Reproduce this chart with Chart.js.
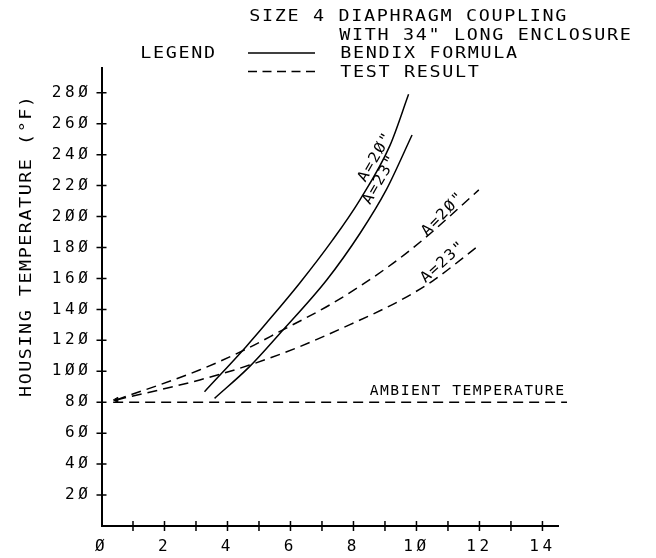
<!DOCTYPE html>
<html>
<head>
<meta charset="utf-8">
<title>Housing temperature - size 4 diaphragm coupling</title>
<script src="https://cdn.jsdelivr.net/npm/chart.js@4.4.1/dist/chart.umd.min.js"></script>
<style>
  html, body { margin: 0; padding: 0; background: #fff; }
  #wrap { width: 656px; height: 558px; }
</style>
</head>
<body>
<div id="wrap"><canvas id="tempChart" width="656" height="558"></canvas></div>
<script>
// curves (x in axis units, y in deg F)
const bendix20X = [3.27, 4.59, 5.23, 6.29, 7.34, 8.21, 9.16, 9.75];
const bendix20Y = [86.8, 115.9, 131, 156.9, 184.9, 211, 246, 279];
const bendix23X = [3.59, 4.7, 5.67, 7.15, 8.21, 9.04, 9.86];
const bendix23Y = [82.5, 103, 124.6, 159, 189.2, 217.2, 252.7];
const test20X = [0.47, 3.11, 4.56, 5.65, 7.34, 9.04, 10.2, 11.98];
const test20Y = [81.5, 100.8, 114, 125.6, 144, 166.6, 184.9, 217.2];
const test23X = [0.47, 3.12, 4.7, 6.29, 7.87, 9.46, 10.52, 11.93];
const test23Y = [81.5, 94.4, 104, 115.9, 130, 145.5, 158.5, 180.5];
const ambientX = [0.37, 14.78];
const ambientY = [80, 80];

// axes
const xTickMarks = [1, 2, 3, 4, 5, 6, 7, 8, 9, 10, 11, 12, 13, 14];
const xTickValues = [0, 2, 4, 6, 8, 10, 12, 14];
const xTickLabels = ['Ø', '2', '4', '6', '8', '1Ø', '12', '14'];
const yTickValues = [20, 40, 60, 80, 100, 120, 140, 160, 180, 200, 220, 240, 260, 280];
const yTickLabels = ['2Ø', '4Ø', '6Ø', '8Ø', '1ØØ', '12Ø', '14Ø', '16Ø', '18Ø', '2ØØ', '22Ø', '24Ø', '26Ø', '28Ø'];

const FONT = '"DejaVu Sans Mono", "Liberation Mono", monospace';
const INK = '#000';

function toPoints(xs, ys) {
    return xs.map((x, i) => ({ x: x, y: ys[i] }));
}

// plotter style lettering: one glyph per fixed cell, slightly widened.
// y is the middle of the capitals
function plotText(ctx, text, x, y, size, pitch, align, angle, hs) {
    hs = hs || 1.15;
    ctx.save();
    ctx.font = size + 'px ' + FONT;
    ctx.letterSpacing = '0px';
    ctx.fillStyle = INK;
    ctx.textAlign = 'center';
    ctx.textBaseline = 'alphabetic';
    const glyph = ctx.measureText('M').width * hs * 0.85;
    const n = text.length;
    ctx.translate(x, y);
    if (angle) ctx.rotate(angle * Math.PI / 180);
    let c0;
    if (align === 'center') c0 = -pitch * (n - 1) / 2;
    else c0 = glyph / 2;
    for (let i = 0; i < n; i++) {
        ctx.save();
        ctx.translate(c0 + pitch * i, 0);
        ctx.scale(hs, 1);
        ctx.fillText(text[i], 0, size * 0.3645);
        ctx.restore();
    }
    ctx.restore();
}

// labels written along the curves, anchored in data units
const curveLabels = [
    { text: 'A=2Ø"', x: 8.65, y: 238.5, angle: -60 },
    { text: 'A=23"', x: 8.8, y: 224, angle: -60 },
    { text: 'A=2Ø"', x: 10.8, y: 202, angle: -46 },
    { text: 'A=23"', x: 10.8, y: 171, angle: -42 }
];

const plotterText = {
    id: 'plotterText',
    beforeDraw(chart) {
        chart.ctx.letterSpacing = '3.6px';
    },
    afterDraw(chart) {
        const ctx = chart.ctx;
        const xs = chart.scales.x;
        const ys = chart.scales.y;
        ctx.letterSpacing = '0px';

        // tick marks crossing the axes
        ctx.save();
        ctx.strokeStyle = INK;
        ctx.lineWidth = 1.5;
        const ax = xs.getPixelForValue(0);
        const ay = ys.getPixelForValue(0);
        ctx.beginPath();
        xTickMarks.forEach(v => {
            const px = xs.getPixelForValue(v);
            ctx.moveTo(px, ay - 5);
            ctx.lineTo(px, ay + 5);
        });
        yTickValues.forEach(v => {
            const py = ys.getPixelForValue(v);
            ctx.moveTo(ax - 5, py);
            ctx.lineTo(ax + 5, py);
        });
        ctx.stroke();
        ctx.restore();

        // heading and legend
        plotText(ctx, 'SIZE 4 DIAPHRAGM COUPLING', 250, 15, 16, 12.75, 'left');
        plotText(ctx, 'WITH 34" LONG ENCLOSURE', 340, 34, 16, 12.75, 'left');
        plotText(ctx, 'LEGEND', 141, 52.5, 16, 12.75, 'left');
        plotText(ctx, 'BENDIX FORMULA', 341, 52.5, 16, 12.75, 'left');
        plotText(ctx, 'TEST RESULT', 341, 71, 16, 12.75, 'left');
        ctx.save();
        ctx.strokeStyle = INK;
        ctx.lineWidth = 1.4;
        ctx.beginPath();
        ctx.moveTo(248, 53);
        ctx.lineTo(315, 53);
        ctx.stroke();
        ctx.setLineDash([9, 5.5]);
        ctx.beginPath();
        ctx.moveTo(248, 71.5);
        ctx.lineTo(315, 71.5);
        ctx.stroke();
        ctx.restore();

        // axis title
        plotText(ctx, 'HOUSING TEMPERATURE (°F)', 25, 246.5, 16, 12.6, 'center', -90);

        // curve labels
        curveLabels.forEach(l => {
            plotText(ctx, l.text, xs.getPixelForValue(l.x), ys.getPixelForValue(l.y), 15, 11, 'center', l.angle, 1.05);
        });
        plotText(ctx, 'AMBIENT TEMPERATURE', xs.getPixelForValue(11.6), ys.getPixelForValue(88), 14, 10.3, 'center', 0, 1.05);
    }
};

function curve(label, xs, ys, dashed) {
    return {
        label: label,
        data: toPoints(xs, ys),
        borderColor: INK,
        borderWidth: 1.5,
        borderDash: dashed ? [10, 6] : [],
        pointRadius: 0,
        cubicInterpolationMode: 'monotone',
        fill: false
    };
}

const datasets = [
    curve('Bendix formula A=20"', bendix20X, bendix20Y, false),
    curve('Bendix formula A=23"', bendix23X, bendix23Y, false),
    curve('Test result A=20"', test20X, test20Y, true),
    curve('Test result A=23"', test23X, test23Y, true),
    curve('Ambient temperature', ambientX, ambientY, true)
];
// small arrow head where the test curves start
datasets[2].pointRadius = ctx => ctx.dataIndex === 0 ? 3 : 0;
datasets[2].pointStyle = 'triangle';
datasets[2].rotation = 270;
datasets[2].pointBackgroundColor = INK;
datasets[2].pointBorderWidth = 1;
datasets[4].clip = false;

new Chart(document.getElementById('tempChart'), {
    type: 'line',
    data: { datasets: datasets },
    options: {
        responsive: false,
        devicePixelRatio: 1,
        animation: false,
        layout: { padding: { left: 0, right: 97.8, top: 68, bottom: 0 } },
        plugins: {
            legend: { display: false },
            tooltip: { enabled: false }
        },
        scales: {
            x: {
                type: 'linear',
                min: 0,
                max: 14.5,
                afterFit(scale) { scale.height = 32; },
                grid: { display: false, drawTicks: false },
                border: { display: true, color: INK, width: 2 },
                ticks: {
                    stepSize: 1,
                    autoSkip: false,
                    maxRotation: 0,
                    includeBounds: false,
                    padding: 11.4,
                    color: INK,
                    font: { family: FONT, size: 16 },
                    callback: v => {
                        const i = xTickValues.indexOf(v);
                        return i >= 0 ? xTickLabels[i] : '';
                    }
                }
            },
            y: {
                min: 0,
                max: 296,
                afterFit(scale) { scale.width = 101.5; },
                grid: { display: false, drawTicks: false },
                border: { display: true, color: INK, width: 2 },
                ticks: {
                    stepSize: 20,
                    autoSkip: false,
                    includeBounds: false,
                    padding: 10,
                    color: INK,
                    font: { family: FONT, size: 16 },
                    callback: v => {
                        const i = yTickValues.indexOf(v);
                        return i >= 0 ? yTickLabels[i] : '';
                    }
                }
            }
        }
    },
    plugins: [plotterText]
});
</script>
</body>
</html>
